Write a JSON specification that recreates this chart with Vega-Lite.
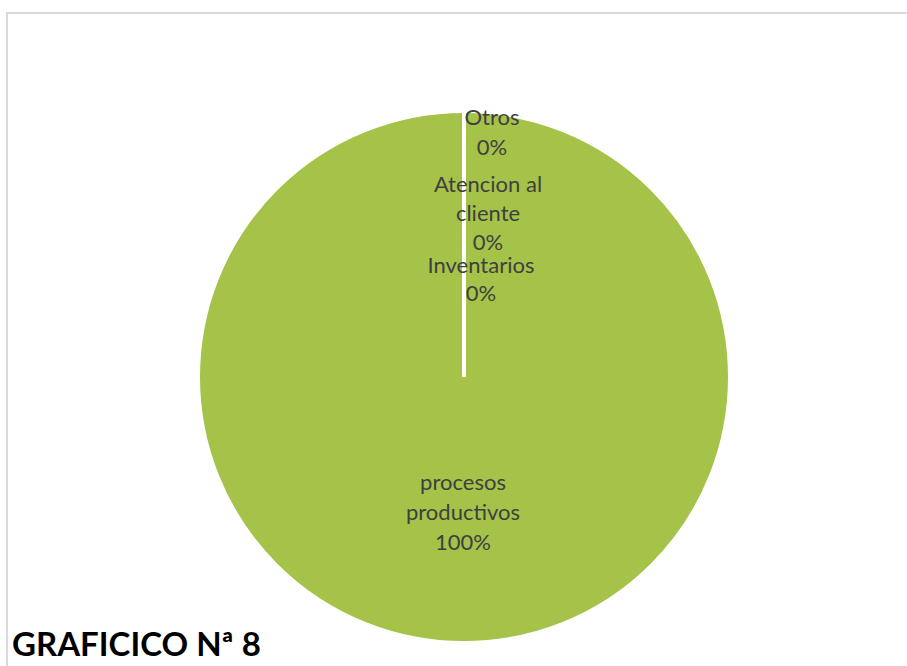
{
  "$schema": "https://vega.github.io/schema/vega-lite/v6.json",
  "autosize": "none",
  "width": 900,
  "height": 653,
  "padding": {"left": 7, "top": 13, "right": 0, "bottom": 0},
  "background": "white",
  "view": {"stroke": "#d9d9d9", "strokeWidth": 2, "strokeDash": [900, 1553, 653], "fill": "white"},
  "config": {
    "font": "Lato"
  },
  "title": {
    "text": "GRAFICICO Nª 8",
    "orient": "bottom",
    "anchor": "start",
    "frame": "group",
    "baseline": "alphabetic",
    "offset": -10,
    "dx": 5,
    "font": "Lato",
    "fontSize": 33,
    "fontWeight": "bold",
    "color": "#000000"
  },
  "data": {
    "values": [
      {"category": "procesos productivos", "display": "procesos|productivos", "value": 100},
      {"category": "Inventarios", "display": "Inventarios", "value": 0},
      {"category": "Atencion al cliente", "display": "Atencion al|cliente", "value": 0},
      {"category": "Otros", "display": "Otros", "value": 0}
    ]
  },
  "transform": [
    {"calculate": "datum.display + '|' + format(datum.value / 100, '.0%')", "as": "label"}
  ],
  "encoding": {
    "theta": {"field": "value", "type": "quantitative", "stack": true}
  },
  "layer": [
    {
      "mark": {"type": "arc", "x": 457, "y": 364, "outerRadius": 266, "fill": "#A5C249", "stroke": "white", "strokeWidth": 4},
      "encoding": {
        "order": {"field": "value", "type": "quantitative", "sort": "descending"}
      }
    },
    {
      "mark": {"type": "text", "x": 457, "y": 364, "radius": 106, "dx": -1, "lineBreak": "|", "lineHeight": 30, "fontSize": 22, "color": "#404040", "baseline": "middle", "align": "center"},
      "encoding": {
        "order": {"field": "value", "type": "quantitative", "sort": "descending"},
        "text": {"condition": {"test": "datum.category == 'procesos productivos'", "field": "label"}, "value": ""}
      }
    },
    {
      "mark": {"type": "text", "x": 457, "y": 364, "radius": 111, "dx": 17, "lineBreak": "|", "lineHeight": 28, "fontSize": 22, "color": "#404040", "baseline": "middle", "align": "center"},
      "encoding": {
        "order": {"field": "value", "type": "quantitative", "sort": "descending"},
        "text": {"condition": {"test": "datum.category == 'Inventarios'", "field": "label"}, "value": ""}
      }
    },
    {
      "mark": {"type": "text", "x": 457, "y": 364, "radius": 192, "dx": 24, "lineBreak": "|", "lineHeight": 29, "fontSize": 22, "color": "#404040", "baseline": "middle", "align": "center"},
      "encoding": {
        "order": {"field": "value", "type": "quantitative", "sort": "descending"},
        "text": {"condition": {"test": "datum.category == 'Atencion al cliente'", "field": "label"}, "value": ""}
      }
    },
    {
      "mark": {"type": "text", "x": 457, "y": 364, "radius": 259, "dx": 28, "lineBreak": "|", "lineHeight": 30, "fontSize": 22, "color": "#404040", "baseline": "middle", "align": "center"},
      "encoding": {
        "order": {"field": "value", "type": "quantitative", "sort": "descending"},
        "text": {"condition": {"test": "datum.category == 'Otros'", "field": "label"}, "value": ""}
      }
    }
  ]
}
